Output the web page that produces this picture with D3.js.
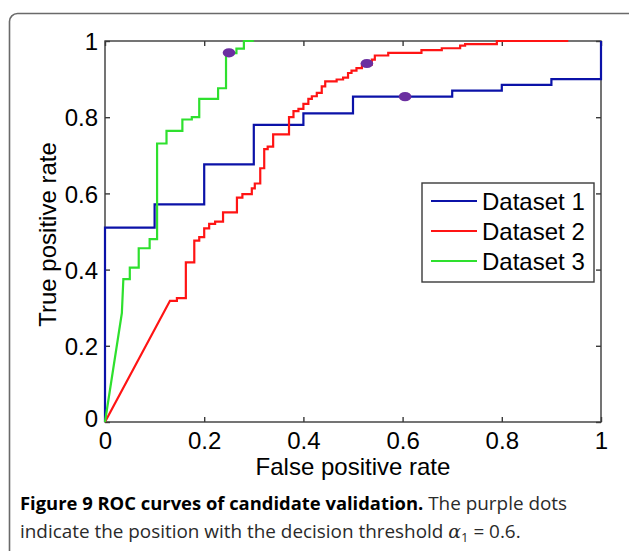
<!DOCTYPE html>
<html>
<head>
<meta charset="utf-8">
<script src="https://cdn.jsdelivr.net/npm/d3@7"></script>
<style>
  html, body { margin: 0; padding: 0; background: #fff; }
  svg { display: block; }
</style>
</head>
<body>
<svg id="chart" width="629" height="551"></svg>
<script>
// ---- Data (fpr, tpr vertices of each ROC curve) ----
const xTicks = [0, 0.2, 0.4, 0.6, 0.8, 1];
const yTicks = [0, 0.2, 0.4, 0.6, 0.8, 1];
const seriesNames = ["Dataset 1", "Dataset 2", "Dataset 3"];
const seriesColors = ["#0b12a8", "#ff1414", "#2ee02e"];

const dataset1 = [
  [0,0],[0,0.51],[0.1,0.51],[0.1,0.571],[0.2,0.571],[0.2,0.676],[0.3,0.676],
  [0.3,0.78],[0.4,0.78],[0.4,0.81],[0.5,0.81],[0.5,0.854],[0.7,0.854],[0.7,0.87],
  [0.8,0.87],[0.8,0.885],[0.9,0.885],[0.9,0.90],[1,0.90],[1,1]
];

const dataset2 = [
  [0,0],[0.131,0.318],[0.145,0.318],[0.145,0.325],[0.163,0.325],[0.163,0.333],
  [0.163,0.419],[0.18,0.419],[0.18,0.476],[0.19,0.476],[0.19,0.485],[0.20,0.485],
  [0.20,0.508],[0.21,0.508],[0.21,0.52],[0.222,0.52],[0.222,0.526],[0.238,0.526],
  [0.238,0.550],[0.266,0.550],[0.266,0.589],[0.277,0.589],[0.277,0.598],[0.296,0.598],
  [0.296,0.613],[0.302,0.613],[0.302,0.626],[0.313,0.626],[0.313,0.666],[0.321,0.666],
  [0.321,0.716],[0.328,0.716],[0.328,0.723],[0.339,0.723],[0.339,0.755],[0.371,0.755],
  [0.371,0.80],[0.38,0.80],[0.38,0.816],[0.39,0.816],[0.39,0.822],[0.40,0.822],
  [0.40,0.835],[0.41,0.835],[0.41,0.848],[0.417,0.848],[0.417,0.855],[0.427,0.855],
  [0.427,0.864],[0.437,0.864],[0.437,0.881],[0.444,0.881],[0.444,0.894],[0.467,0.894],
  [0.467,0.899],[0.48,0.899],[0.48,0.904],[0.49,0.904],[0.49,0.916],[0.497,0.916],
  [0.497,0.922],[0.507,0.922],[0.507,0.929],[0.518,0.929],[0.518,0.938],[0.538,0.938],
  [0.538,0.951],[0.544,0.951],[0.544,0.962],[0.571,0.962],[0.571,0.969],[0.638,0.969],
  [0.638,0.976],[0.679,0.976],[0.679,0.981],[0.716,0.981],[0.716,0.988],[0.726,0.988],
  [0.726,0.992],[0.79,0.992],[0.79,1.0],[0.934,1.0]
];

const dataset3 = [
  [0,0],[0.034,0.286],[0.037,0.375],[0.05,0.375],[0.05,0.405],[0.068,0.405],
  [0.068,0.456],[0.09,0.456],[0.09,0.48],[0.105,0.48],[0.105,0.731],[0.124,0.731],
  [0.124,0.764],[0.156,0.764],[0.156,0.794],[0.175,0.794],[0.175,0.80],[0.19,0.80],
  [0.19,0.848],[0.228,0.848],[0.228,0.876],[0.244,0.876],[0.244,0.968],[0.265,0.968],
  [0.265,0.98],[0.28,0.98],[0.28,1],[0.3,1]
];

// threshold points (alpha1 = 0.6)
const thresholdPoints = [[0.605, 0.854], [0.528, 0.941], [0.25, 0.969]];

// ---- Drawing ----
const svg = d3.select("#chart");
const M = { left: 105, right: 601, top: 41, bottom: 422 };
const x = d3.scaleLinear().domain([0, 1]).range([M.left, M.right]);
const y = d3.scaleLinear().domain([0, 1]).range([M.bottom, M.top]);

// outer rounded frame
svg.append("rect")
  .attr("x", 9.5).attr("y", 13.5)
  .attr("width", 700).attr("height", 700)
  .attr("rx", 8).attr("ry", 8)
  .attr("fill", "none").attr("stroke", "#6a6a6a").attr("stroke-width", 1.6);

const tickFont = "Liberation Sans, Arial, sans-serif";
const axisColor = "#3a3a3a";

// axes box
svg.append("rect")
  .attr("x", x(0)).attr("y", y(1))
  .attr("width", x(1) - x(0)).attr("height", y(0) - y(1))
  .attr("fill", "none").attr("stroke", axisColor).attr("stroke-width", 1.4);

// axes using d3 axis generators (inner ticks)
const xAxisB = d3.axisBottom(x).tickValues(xTicks).tickSizeInner(-5).tickSizeOuter(0)
  .tickPadding(10).tickFormat(d3.format("~g"));
const gxb = svg.append("g").attr("transform", `translate(0,${y(0)})`).call(xAxisB);
const xAxisT = d3.axisTop(x).tickValues(xTicks).tickSizeInner(-5).tickSizeOuter(0).tickFormat("");
const gxt = svg.append("g").attr("transform", `translate(0,${y(1)})`).call(xAxisT);
const yAxisL = d3.axisLeft(y).tickValues(yTicks).tickSizeInner(-5).tickSizeOuter(0)
  .tickPadding(7).tickFormat(d3.format("~g"));
const gyl = svg.append("g").attr("transform", `translate(${x(0)},0)`).call(yAxisL);
const yAxisR = d3.axisRight(y).tickValues(yTicks).tickSizeInner(-5).tickSizeOuter(0).tickFormat("");
const gyr = svg.append("g").attr("transform", `translate(${x(1)},0)`).call(yAxisR);

[gxb, gxt, gyl, gyr].forEach(g => {
  g.select(".domain").remove();
  g.selectAll(".tick line").attr("stroke", axisColor).attr("stroke-width", 1.4);
  g.selectAll(".tick text").attr("fill", "#000")
    .style("font-family", tickFont).style("font-size", "24px");
});
gyl.selectAll(".tick text").attr("dy", "0.36em");
gyl.selectAll(".tick").filter(d => d === 0).select("text").attr("dy", "0.2em");

// axis labels
svg.append("text")
  .attr("x", (x(0) + x(1)) / 2).attr("y", 475)
  .attr("text-anchor", "middle")
  .style("font-family", tickFont).style("font-size", "24px")
  .text("False positive rate");
svg.append("text")
  .attr("transform", `translate(56,${(y(0) + y(1)) / 2 + 3}) rotate(-90)`)
  .attr("text-anchor", "middle")
  .style("font-family", tickFont).style("font-size", "24px")
  .text("True positive rate");

// curves
const line = d3.line().x(d => x(d[0])).y(d => y(d[1]));
const allSeries = [dataset1, dataset2, dataset3];
allSeries.forEach((data, i) => {
  svg.append("path")
    .datum(data)
    .attr("d", line)
    .attr("fill", "none")
    .attr("stroke", seriesColors[i])
    .attr("stroke-width", 2.2)
    .attr("stroke-linejoin", "miter");
});

// threshold dots
svg.selectAll(".dot").data(thresholdPoints).enter().append("ellipse")
  .attr("cx", d => x(d[0])).attr("cy", d => y(d[1]))
  .attr("rx", 6.3).attr("ry", 4.6)
  .attr("fill", "#6b2fa0");

// legend
const lg = svg.append("g");
lg.append("rect")
  .attr("x", 422).attr("y", 183).attr("width", 172).attr("height", 99)
  .attr("fill", "#fff").attr("stroke", axisColor).attr("stroke-width", 1.4);
seriesNames.forEach((name, i) => {
  const cy = 201 + i * 30;
  lg.append("line")
    .attr("x1", 431).attr("x2", 477).attr("y1", cy).attr("y2", cy)
    .attr("stroke", seriesColors[i]).attr("stroke-width", 2.2);
  lg.append("text")
    .attr("x", 482).attr("y", cy).attr("dy", "0.36em")
    .style("font-family", tickFont).style("font-size", "24px")
    .text(name);
});

// caption
const capFont = "'Open Sans', 'Noto Sans', sans-serif";
const c1 = svg.append("text").attr("x", 20).attr("y", 510)
  .style("font-family", capFont).style("font-size", "18.9px").attr("fill", "#2a2a2a");
c1.append("tspan").style("font-weight", "bold").style("font-size", "18.4px").attr("fill", "#000")
  .text("Figure 9 ROC curves of candidate validation.");
c1.append("tspan").text(" The purple dots");
const c2 = svg.append("text").attr("x", 20).attr("y", 538)
  .style("font-family", capFont).style("font-size", "18.9px").attr("fill", "#2a2a2a");
c2.append("tspan").text("indicate the position with the decision threshold ");
c2.append("tspan").style("font-family", "'DejaVu Serif', serif").style("font-style", "italic")
  .text("α");
c2.append("tspan").attr("dy", 4).style("font-size", "13px").text("1");
c2.append("tspan").attr("dy", -4).text(" = 0.6.");
</script>
</body>
</html>
